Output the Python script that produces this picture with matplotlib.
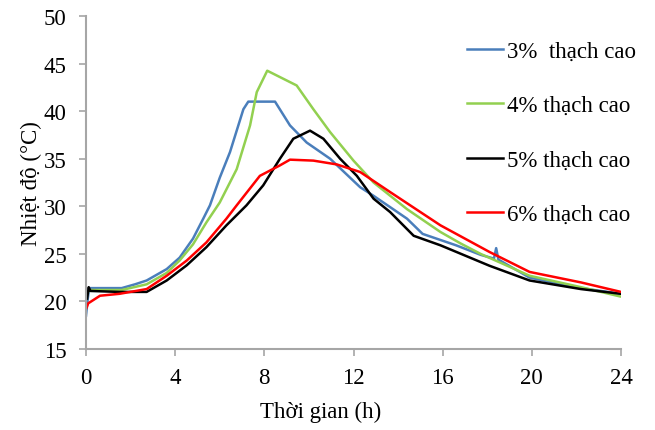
import matplotlib
matplotlib.use("Agg")
import matplotlib.pyplot as plt

# time (h) / temperature (degC), one series per gypsum content
t_3 = [0.0, 0.08, 0.14, 1.6, 2.2, 2.72, 3.62, 4.2, 4.8, 5.26, 5.56, 6.0, 6.46, 7.06, 7.28,
       8.48, 9.15, 9.9, 10.95, 11.4, 12.3, 12.9, 14.4, 15.1, 16.6, 17.7, 18.3, 18.4, 18.5,
       19.9, 22.2, 24.0]
v_3 = [18.5, 20.3, 21.4, 21.4, 21.8, 22.2, 23.4, 24.6, 26.6, 28.7, 30.1, 33.0, 35.7, 40.2, 41.0,
       41.0, 38.5, 36.7, 35.0, 34.0, 32.0, 31.1, 28.7, 27.1, 25.9, 24.9, 24.5, 25.6, 24.4,
       22.5, 21.4, 20.8]

t_4 = [0.05, 0.15, 1.6, 2.72, 3.62, 4.2, 4.8, 5.4, 6.0, 6.76, 7.36, 7.66, 8.13, 9.45, 10.2,
       10.95, 12.0, 12.9, 14.4, 15.9, 16.8, 17.7, 19.9, 22.2, 24.0]
v_4 = [20.8, 21.2, 21.2, 21.8, 23.0, 24.3, 26.0, 28.3, 30.4, 33.9, 38.5, 42.0, 44.25, 42.7, 40.2,
       37.8, 34.8, 32.5, 29.7, 27.3, 26.1, 25.0, 22.7, 21.5, 20.5]

t_5 = [0.05, 0.12, 0.2, 1.5, 2.72, 3.62, 4.52, 5.4, 6.3, 7.2, 7.95, 8.7, 9.3, 10.05, 10.65,
       11.4, 12.15, 12.9, 13.64, 14.7, 15.9, 18.1, 19.9, 22.2, 24.0]
v_5 = [20.3, 21.5, 21.1, 21.0, 21.0, 22.2, 23.8, 25.7, 28.0, 30.1, 32.2, 35.0, 37.1, 37.95, 37.1,
       35.0, 33.2, 30.8, 29.4, 26.9, 25.9, 23.75, 22.2, 21.3, 20.8]

t_6 = [0.0, 0.1, 0.63, 1.5, 2.72, 3.62, 4.52, 5.4, 6.3, 6.76, 7.8, 8.7, 9.15, 10.2, 11.25,
       12.3, 13.64, 15.9, 18.1, 19.9, 22.2, 24.0]
v_6 = [19.2, 19.8, 20.6, 20.8, 21.3, 22.7, 24.3, 26.2, 28.7, 30.1, 33.2, 34.3, 34.9, 34.8, 34.4,
       33.6, 31.5, 28.0, 25.2, 23.1, 22.0, 21.0]

labels = ["3%  thạch cao", "4% thạch cao", "5% thạch cao", "6% thạch cao"]
colors = ["#4A7EBB", "#92D050", "#000000", "#FF0000"]
x_ticks = [0, 4, 8, 12, 16, 20, 24]
y_ticks = [15, 20, 25, 30, 35, 40, 45, 50]

plt.rcParams["font.family"] = ["Liberation Serif", "DejaVu Serif"]
fs = 16.5

fig = plt.figure(figsize=(6.55, 4.31), dpi=100)
ax = fig.add_axes([86 / 655, 1 - 350 / 431, 535 / 655, 333 / 431])

for (t, v), lab, c in zip([(t_3, v_3), (t_4, v_4), (t_5, v_5), (t_6, v_6)], labels, colors):
    ax.plot(t, v, color=c, lw=1.8, label=lab)

ax.set_xlim(0, 24)
ax.set_ylim(15, 50)
ax.set_xticks(x_ticks)
ax.set_yticks(y_ticks)
for side in ("top", "right"):
    ax.spines[side].set_visible(False)
for side in ("left", "bottom"):
    ax.spines[side].set_color("#a6a6a6")
    ax.spines[side].set_linewidth(1.5)
ax.tick_params(colors="#a6a6a6", labelcolor="black", labelsize=fs, length=5, width=1.2)
ax.tick_params(axis="x", pad=8)
ax.tick_params(axis="y", pad=9)

ax.set_xlabel("Thời gian (h)", fontsize=fs)
ax.xaxis.set_label_coords((321 - 86) / 535, -(412 - 350) / 333, transform=ax.transAxes)
ax.xaxis.label.set_va("center")
ax.set_ylabel("Nhiệt độ (°C)", fontsize=fs)
ax.yaxis.set_label_coords(-(86 - 31) / 535, 0.5, transform=ax.transAxes)
ax.yaxis.label.set_va("center")

ax.legend(loc="upper left", bbox_to_anchor=(467 / 655, 1 - 42 / 431),
          bbox_transform=fig.transFigure, frameon=False, fontsize=fs,
          handlelength=36 / (fs * 100 / 72), handletextpad=0.18, labelspacing=1.45,
          borderpad=0, borderaxespad=0)

fig.savefig("out.png", dpi=100)
